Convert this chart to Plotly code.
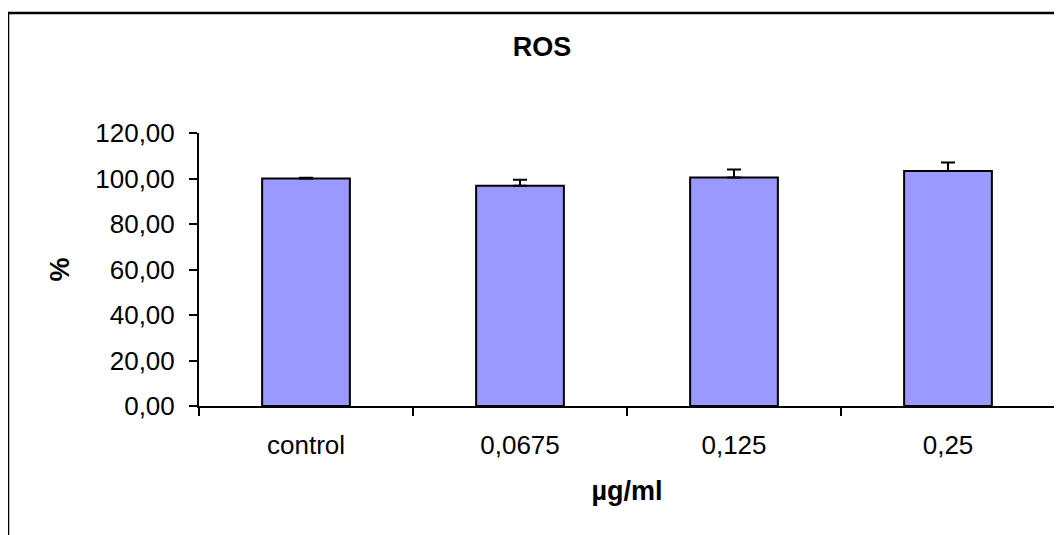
import plotly.graph_objects as go

# ROS levels (% of control) per concentration
categories = ["control", "0,0675", "0,125", "0,25"]
ros_mean = [100.0, 96.8, 100.4, 103.3]
ros_err = [0.3, 2.6, 3.6, 3.7]

font_name = "Liberation Sans, Arial, sans-serif"

# the page body adds an 8px offset, margins compensate for it
fig_w, fig_h = 1062, 535

fig = go.Figure()

fig.add_trace(go.Bar(
    x=categories,
    y=ros_mean,
    width=0.41,
    marker=dict(color="#9999FF", line=dict(color="black", width=2)),
    error_y=dict(type="data", array=ros_err, arrayminus=[0] * len(ros_err),
                 symmetric=False, color="black", thickness=2, width=7),
    showlegend=False,
))

fig.update_layout(
    width=fig_w,
    height=fig_h,
    autosize=False,
    margin=dict(l=191, r=15, t=125, b=137),
    paper_bgcolor="white",
    plot_bgcolor="white",
    separators=",.",
    font=dict(family=font_name, size=26, color="black"),
    title=dict(text="<b>ROS</b>", x=(542 - 8) / fig_w, xref="container", xanchor="center",
               y=1 - (47 - 8) / fig_h, yref="container", yanchor="middle",
               font=dict(size=27)),
    xaxis=dict(
        showline=True, linecolor="black", linewidth=2,
        ticks="outside", tickson="boundaries", ticklen=8, tickwidth=2, tickcolor="black",
        ticklabelstandoff=15,
        showgrid=False,
        title=dict(text="<b>µg/ml</b>", standoff=22, font=dict(size=27)),
    ),
    yaxis=dict(
        range=[0, 120], dtick=20, tickformat=".2f",
        showline=True, linecolor="black", linewidth=2,
        ticks="outside", ticklen=8, tickwidth=2, tickcolor="black",
        ticklabelstandoff=9,
        showgrid=False, zeroline=False,
        title=dict(text="<b>%</b>", standoff=18, font=dict(size=27)),
    ),
    # outer chart frame, as in the spreadsheet export
    shapes=[dict(type="rect", xref="paper", yref="paper",
                 x0=-191 / 856, x1=1.2, y0=-0.6, y1=(406 - 13) / 273,
                 line=dict(color="black", width=2.5), layer="below")],
)

fig.write_html("out.html")
